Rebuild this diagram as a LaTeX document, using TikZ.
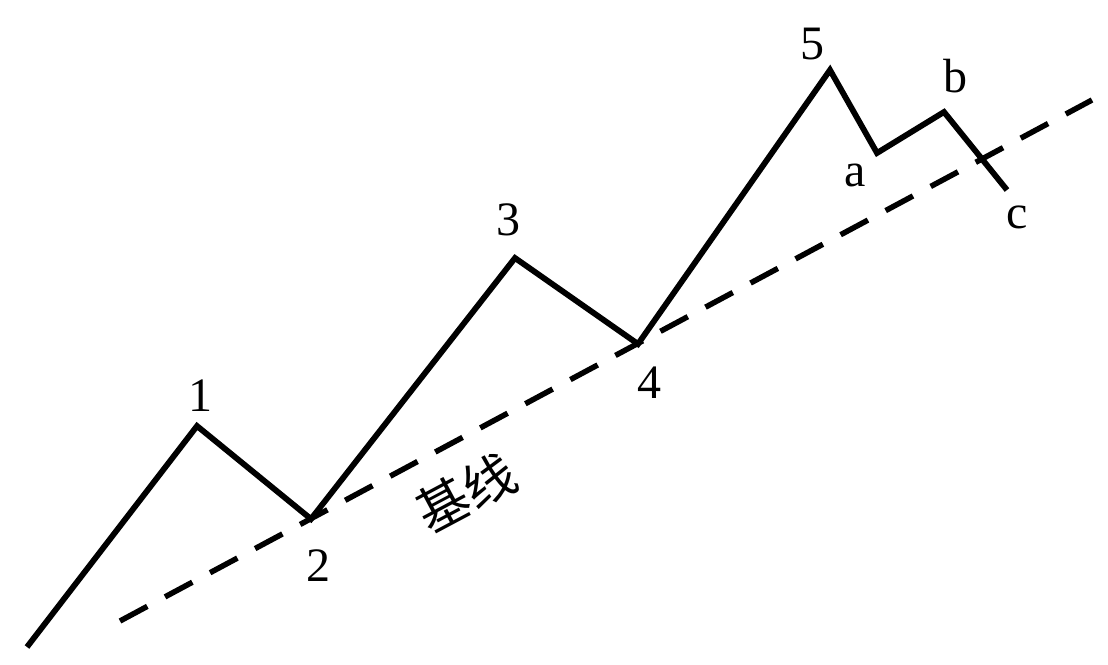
\documentclass[tikz,border=0pt]{standalone}
\usepackage{fontspec}
\setmainfont{Liberation Serif}
\newfontfamily\cjk{Noto Sans CJK SC}
\begin{document}
\begin{tikzpicture}[x=1pt,y=-1pt,
  wave/.style={line width=5.8pt,line join=miter,line cap=butt},
  base/.style={line width=5.5pt,dash pattern=on 31pt off 20.1pt},
  lbl/.style={font=\fontsize{48}{50}\selectfont,inner sep=0pt}]
\useasboundingbox (0,0) rectangle (1108,664);
\coordinate (s) at (27,647);
\coordinate (p1) at (197,426);
\coordinate (p2) at (311,519);
\coordinate (p3) at (515,258);
\coordinate (p4) at (638,344);
\coordinate (p5) at (830,70);
\coordinate (pa) at (877,153);
\coordinate (pb) at (944,112);
\coordinate (pc) at (1007,190);
\coordinate (d0) at (120,621);
\coordinate (d1) at (1092,100);
\draw[wave] (s) -- (p1) -- (p2) -- (p3) -- (p4) -- (p5) -- (pa) -- (pb) -- (pc);
\draw[base] (d0) -- (d1);
\node[lbl] (l1) at (200,396) {1};
\node[lbl] (l2) at (318,566) {2};
\node[lbl] (l3) at (508,220) {3};
\node[lbl] (l4) at (649,383) {4};
\node[lbl] (l5) at (812,44) {5};
\node[lbl] (la) at (855,175) {a};
\node[lbl] (lb) at (955,76) {b};
\node[lbl] (lc) at (1017,217) {c};
\node[inner sep=0pt,rotate=28,font=\cjk\fontsize{52}{54}\selectfont] (bl) at (466,493) {基线};
\end{tikzpicture}
\end{document}
